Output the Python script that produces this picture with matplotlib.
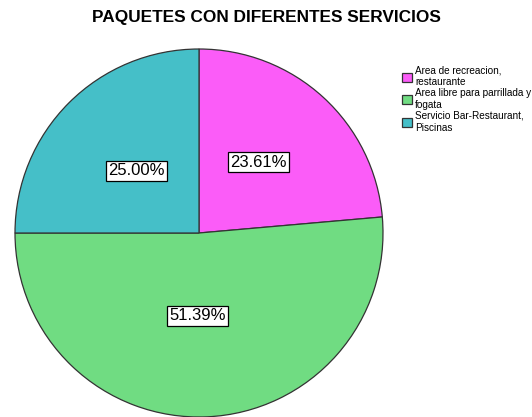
import matplotlib.pyplot as plt

plt.rcParams['font.family'] = ['Liberation Sans', 'DejaVu Sans']

# data
labels = ["Area de recreacion,\nrestaurante",
          "Area libre para parrillada y\nfogata",
          "Servicio Bar-Restaurant,\nPiscinas"]
values = [23.61, 51.39, 25.00]
colors = ["#fb5cf8", "#70dc82", "#45bfc8"]

fig = plt.figure(figsize=(5.32, 4.17), dpi=100)

# pie axes: center at (199, 233) px, radius 184 px
ax = fig.add_axes([15 / 532, 0 / 417, 368 / 532, 368 / 417])
wedges, texts, autotexts = ax.pie(
    values, colors=colors, startangle=90, counterclock=False,
    autopct="%.2f%%", pctdistance=0.48, radius=1.0,
    wedgeprops=dict(edgecolor="#333333", linewidth=0.9),
    textprops=dict(fontsize=12))
for t in autotexts:
    t.set_bbox(dict(facecolor="white", edgecolor="black", linewidth=0.9, pad=1.8))
# small nudges to sit like the original labels
x, y = autotexts[0].get_position()
autotexts[0].set_position((x, y + 0.03))
x, y = autotexts[1].get_position()
autotexts[1].set_position((x - 0.03, y + 0.03))
ax.set_xlim(-1, 1)
ax.set_ylim(-1, 1)
ax.set_aspect("auto")

fig.text(0.5, 0.957, "PAQUETES CON DIFERENTES SERVICIOS", ha="center", va="center",
         fontsize=12.4, fontweight="bold")

leg = fig.legend(wedges, labels, loc="upper left", bbox_to_anchor=(0.748, 0.852),
                 frameon=False, fontsize=7.2, handlelength=1.0, handleheight=1.0,
                 handletextpad=0.3, labelspacing=0.1, borderaxespad=0)
for h in leg.legend_handles:
    h.set_edgecolor("#333333")

fig.savefig("out.png", dpi=100)
